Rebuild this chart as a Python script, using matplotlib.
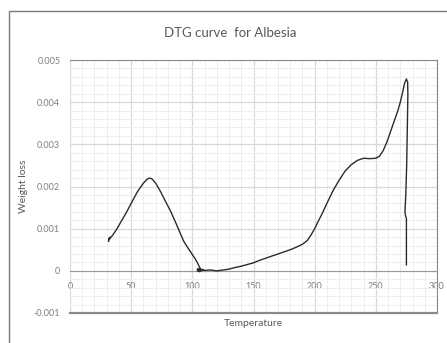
import matplotlib
matplotlib.use('Agg')
from matplotlib import pyplot as plt
from matplotlib.patches import Rectangle
from matplotlib.ticker import MultipleLocator

plt.rcParams['font.family'] = ['Lato', 'DejaVu Sans']

# temperature (deg) and DTG weight loss
temperature = [31.5, 32.5, 31.8, 33, 35, 38, 42, 46, 50, 55, 60, 63, 65, 67, 70,
               74, 78, 82, 86, 90, 93, 96, 99, 102, 104, 106, 107, 104, 106, 109,
               104, 110, 115, 120, 125, 130, 135, 140, 145, 150, 155, 160, 165,
               170, 175, 180, 185, 190, 194, 197, 200, 203, 206, 210, 215, 220,
               225, 230, 235, 240, 245, 250, 253, 256, 259, 262, 265, 268, 270,
               272, 273.5, 275, 276, 276.2, 275.8, 275.2, 274.5, 273.8, 274.3,
               275, 275, 275]
weight_loss = [0.00070, 0.00080, 0.00074, 0.00078, 0.00085, 0.00098, 0.00118,
               0.00138, 0.00160, 0.00187, 0.00208, 0.00217, 0.00220, 0.00218,
               0.00208, 0.00188, 0.00165, 0.00143, 0.00117, 0.00090, 0.00070,
               0.00056, 0.00043, 0.00030, 0.00020, 0.00008, 0.00003, 0.00000,
               -0.00002, 0.00003, 0.00004, 0.00001, 0.00002, 0.00000, 0.00002,
               0.00004, 0.00008, 0.00011, 0.00015, 0.00019, 0.00025, 0.00030,
               0.00035, 0.00040, 0.00045, 0.00050, 0.00056, 0.00063, 0.00072,
               0.00085, 0.00100, 0.00118, 0.00135, 0.00160, 0.00190, 0.00215,
               0.00237, 0.00252, 0.00262, 0.00267, 0.00266, 0.00267, 0.00272,
               0.00285, 0.00305, 0.00330, 0.00355, 0.00380, 0.00400, 0.00425,
               0.00445, 0.00455, 0.00448, 0.00420, 0.00350, 0.00250, 0.00180,
               0.00140, 0.00130, 0.00125, 0.00060, 0.00014]

fig = plt.figure(figsize=(4.47, 3.43), dpi=100)
ax = fig.add_axes([70/447, 1 - 313/343, 367/447, 253/343])

# outer chart frame (cut off on the right and bottom)
fig.patches.append(Rectangle((9/447, -0.1), 1.0, 1 - 11/343 + 0.1,
                             transform=fig.transFigure, fill=False,
                             edgecolor='#7a7a7a', linewidth=1.0))

ax.plot(temperature, weight_loss, color='#2b2b2b', linewidth=1.0, zorder=3)

ax.set_xlim(0, 300)
ax.set_ylim(-0.001, 0.005)
ax.xaxis.set_major_locator(MultipleLocator(50))
ax.xaxis.set_minor_locator(MultipleLocator(10))
ax.yaxis.set_major_locator(MultipleLocator(0.001))
ax.yaxis.set_minor_locator(MultipleLocator(0.0002))
ax.yaxis.set_major_formatter(lambda v, p: '0' if abs(v) < 1e-9 else f'{v:.3f}')

ax.grid(which='major', color='#d9d9d9', linewidth=0.9)
ax.grid(which='minor', color='#eeeeee', linewidth=0.7)
ax.set_axisbelow(True)

ax.spines['bottom'].set_position(('data', 0))
ax.spines['bottom'].set_color('#9a9a9a')
ax.spines['left'].set_visible(False)
for s in ['top', 'right']:
    ax.spines[s].set_color('#8a8a8a')
ax.axhline(-0.001, color='#8a8a8a', linewidth=1.6, clip_on=False)

ax.tick_params(which='both', length=0, labelsize=6.5, labelcolor='#7f7f7f')
ax.tick_params(axis='x', pad=8)
ax.tick_params(axis='y', pad=7)

ax.set_ylabel('Weight loss', fontsize=7.5, color='#595959', labelpad=4)
ax.set_xlabel('Temperature', fontsize=7.5, color='#595959')
ax.xaxis.set_label_coords(0.5, -0.025)

fig.text(230/447, 1 - 33/343, 'DTG curve  for Albesia', fontsize=9.5,
         color='#595959', ha='center', va='center')

fig.savefig('out.png', dpi=100)
